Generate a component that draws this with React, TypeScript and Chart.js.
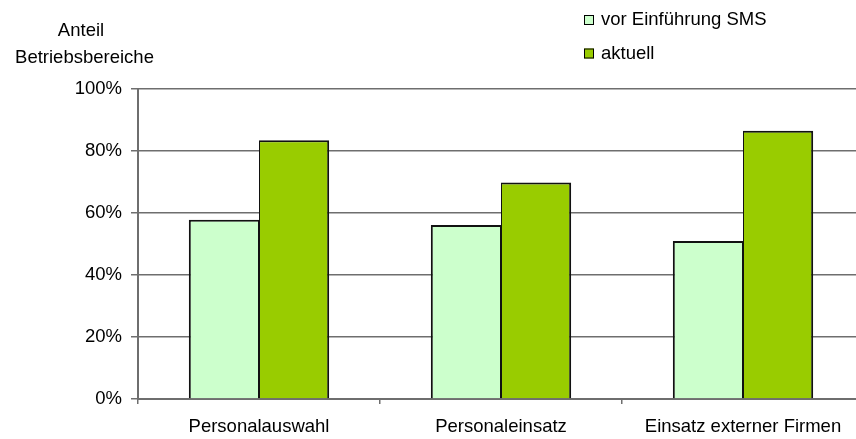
import React, { useEffect, useRef } from "react";
import { Chart, registerables } from "chart.js";

Chart.register(...registerables);

const categories = ["Personalauswahl", "Personaleinsatz", "Einsatz externer Firmen"];
const seriesNames = ["vor Einführung SMS", "aktuell"];
const beforeValues = [57.7, 56.0, 50.9];
const currentValues = [83.3, 69.7, 86.4];
const yTitleLines = ["Anteil", "Betriebsbereiche"];
const colors = ["#CCFFCC", "#99CC00"];

const FONT = '"Liberation Sans", Arial, sans-serif';
const FS = 18.5;

const overlayPlugin = {
  id: "overlay",
  afterDraw(chart: any) {
    const ctx = chart.ctx;
    ctx.save();
    ctx.font = `${FS}px ${FONT}`;
    ctx.fillStyle = "#000";
    ctx.textAlign = "center";
    ctx.textBaseline = "alphabetic";
    ctx.fillText(yTitleLines[0], 81, 35.5);
    ctx.fillText(yTitleLines[1], 84.5, 63);
    // legend
    const rows = [25, 58.5];
    ctx.textAlign = "left";
    seriesNames.forEach((name, i) => {
      const by = rows[i];
      ctx.fillStyle = colors[i];
      ctx.fillRect(584, by - 10, 10, 10);
      ctx.strokeStyle = "#000";
      ctx.lineWidth = 1;
      ctx.strokeRect(584.5, by - 9.5, 9, 9);
      ctx.fillStyle = "#000";
      ctx.fillText(name, 601, by);
    });
    ctx.restore();
  },
};

export default function App() {
  const ref = useRef<HTMLCanvasElement | null>(null);
  useEffect(() => {
    if (!ref.current) return;
    const chart = new Chart(ref.current, {
      type: "bar",
      data: {
        labels: categories,
        datasets: [
          {
            label: seriesNames[0],
            data: beforeValues,
            backgroundColor: colors[0],
            borderColor: "#111",
            borderWidth: { left: 2, right: 1, top: 2, bottom: 0 },
            categoryPercentage: 0.58,
            barPercentage: 1,
          },
          {
            label: seriesNames[1],
            data: currentValues,
            backgroundColor: colors[1],
            borderColor: "#111",
            borderWidth: { left: 1, right: 2, top: 2, bottom: 0 },
            categoryPercentage: 0.58,
            barPercentage: 1,
          },
        ],
      },
      options: {
        responsive: false,
        animation: false,
        devicePixelRatio: 1,
        layout: { padding: { top: 88.5, left: 0, right: 6, bottom: 0 } },
        plugins: {
          legend: { display: false },
          tooltip: { enabled: false },
          title: { display: false },
        },
        scales: {
          x: {
            afterFit: (s: any) => {
              s.height = 40;
            },
            grid: {
              display: true,
              drawOnChartArea: false,
              drawTicks: true,
              tickLength: 5,
              offset: true,
              color: "#6e6e6e",
              lineWidth: 1.5,
            },
            border: { display: true, color: "#6e6e6e", width: 2 },
            ticks: {
              color: "#000",
              font: { family: FONT, size: FS },
              padding: 12,
              maxRotation: 0,
            },
          },
          y: {
            min: 0,
            max: 100,
            afterFit: (s: any) => {
              s.width = 138;
            },
            grid: {
              color: "#6e6e6e",
              lineWidth: 1.5,
              tickLength: 7,
              drawTicks: true,
            },
            border: { display: true, color: "#6e6e6e", width: 2 },
            ticks: {
              stepSize: 20,
              color: "#000",
              font: { family: FONT, size: FS },
              padding: 9,
              callback: (v: any) => `${v}%`,
            },
          },
        },
      },
      plugins: [overlayPlugin],
    });
    return () => chart.destroy();
  }, []);
  return (
    <div
      style={{
        position: "fixed",
        left: 0,
        top: 0,
        width: 856,
        height: 439,
        overflow: "hidden",
        background: "#fff",
      }}
    >
      <canvas ref={ref} width={870} height={439} style={{ display: "block" }} />
    </div>
  );
}
